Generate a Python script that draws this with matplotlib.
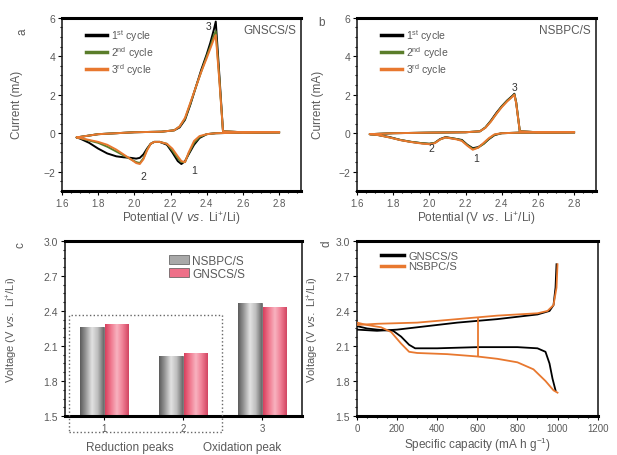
import numpy as np
import matplotlib
matplotlib.use("Agg")
import matplotlib.pyplot as plt
from matplotlib.colors import LinearSegmentedColormap
from matplotlib.patches import Rectangle
from matplotlib.ticker import FormatStrFormatter

# ---- panel a: CV of GNSCS/S ----
a_v_cath = [2.80, 2.60, 2.45, 2.40, 2.36, 2.33, 2.30, 2.28, 2.26, 2.24, 2.21, 2.18, 2.14, 2.11,
            2.09, 2.07, 2.05, 2.03, 2.01, 1.98, 1.94, 1.90, 1.85, 1.80, 1.75, 1.70, 1.68]
a_i_cath_1 = [0.05, 0.03, 0.0, -0.05, -0.25, -0.6, -1.1, -1.45, -1.6, -1.45, -1.0, -0.6, -0.45, -0.45,
              -0.55, -0.8, -1.1, -1.28, -1.32, -1.28, -1.25, -1.2, -1.05, -0.8, -0.5, -0.28, -0.22]
a_i_cath_2 = [0.05, 0.03, 0.0, -0.05, -0.2, -0.5, -1.05, -1.5, -1.5, -1.3, -0.9, -0.55, -0.45, -0.45,
              -0.55, -0.85, -1.3, -1.55, -1.5, -1.35, -1.15, -0.95, -0.7, -0.5, -0.38, -0.26, -0.22]
a_i_cath_3 = [0.05, 0.03, 0.0, -0.05, -0.15, -0.4, -1.0, -1.5, -1.45, -1.2, -0.8, -0.55, -0.45, -0.45,
              -0.55, -0.9, -1.35, -1.6, -1.55, -1.35, -1.1, -0.85, -0.6, -0.45, -0.35, -0.25, -0.22]
a_v_anod = [1.68, 1.80, 2.00, 2.15, 2.22, 2.25, 2.28, 2.31, 2.34, 2.37, 2.40, 2.42, 2.44, 2.45,
            2.47, 2.49, 2.60, 2.80]
a_i_anod_1 = [-0.22, -0.05, 0.05, 0.08, 0.15, 0.3, 0.7, 1.5, 2.4, 3.3, 4.1, 4.7, 5.4, 5.8, 3.0, 0.1, 0.05, 0.05]
a_i_anod_2 = [-0.22, -0.05, 0.05, 0.08, 0.15, 0.35, 0.75, 1.55, 2.4, 3.2, 4.0, 4.5, 5.1, 5.3, 2.8, 0.1, 0.05, 0.05]
a_i_anod_3 = [-0.22, -0.05, 0.05, 0.08, 0.15, 0.35, 0.8, 1.6, 2.4, 3.2, 3.9, 4.4, 4.9, 5.1, 2.7, 0.1, 0.05, 0.05]

# ---- panel b: CV of NSBPC/S ----
b_v_cath = [2.80, 2.50, 2.40, 2.36, 2.33, 2.30, 2.27, 2.24, 2.21, 2.18, 2.15, 2.12, 2.09, 2.06,
            2.03, 2.00, 1.96, 1.90, 1.84, 1.78, 1.72, 1.67]
b_i_cath_1 = [0.05, 0.03, 0.0, -0.1, -0.3, -0.55, -0.72, -0.78, -0.6, -0.35, -0.3, -0.25, -0.2, -0.3,
              -0.5, -0.55, -0.52, -0.45, -0.35, -0.2, -0.1, -0.05]
b_i_cath_2 = [0.05, 0.03, 0.0, -0.08, -0.28, -0.55, -0.75, -0.82, -0.62, -0.38, -0.3, -0.26, -0.22, -0.32,
              -0.5, -0.55, -0.52, -0.45, -0.35, -0.22, -0.1, -0.05]
b_i_cath_3 = [0.05, 0.03, 0.0, -0.06, -0.25, -0.5, -0.75, -0.86, -0.65, -0.4, -0.32, -0.27, -0.22, -0.32,
              -0.52, -0.57, -0.54, -0.46, -0.36, -0.22, -0.1, -0.05]
b_v_anod = [1.67, 1.80, 2.00, 2.20, 2.28, 2.31, 2.34, 2.37, 2.40, 2.43, 2.46, 2.47, 2.48, 2.50, 2.60, 2.80]
b_i_anod_1 = [-0.05, 0.0, 0.03, 0.05, 0.1, 0.3, 0.65, 1.05, 1.4, 1.7, 1.95, 2.05, 1.6, 0.1, 0.05, 0.05]
b_i_anod_2 = [-0.05, 0.0, 0.03, 0.05, 0.1, 0.3, 0.62, 1.0, 1.38, 1.68, 1.92, 2.02, 1.6, 0.1, 0.05, 0.05]
b_i_anod_3 = [-0.05, 0.0, 0.03, 0.05, 0.1, 0.28, 0.6, 1.0, 1.35, 1.65, 1.9, 2.0, 1.55, 0.1, 0.05, 0.05]

cycle_labels = ['1$^{st}$ cycle', '2$^{nd}$ cycle', '3$^{rd}$ cycle']
cycle_colors = ['black', '#5a7d2a', '#e8782f']

# ---- panel c: peak potentials ----
peak_names = ['1', '2', '3']
nsbpc_peaks = [2.263, 2.015, 2.47]
gnscs_peaks = [2.29, 2.04, 2.43]
bar_base = 1.5

# ---- panel d: charge / discharge ----
gn_dis_c = [0, 50, 100, 180, 220, 260, 290, 400, 600, 800, 900, 940, 960, 975, 990]
gn_dis_v = [2.27, 2.25, 2.24, 2.23, 2.18, 2.11, 2.08, 2.08, 2.09, 2.09, 2.08, 2.05, 1.95, 1.82, 1.72]
gn_chg_c = [0, 100, 200, 300, 500, 700, 900, 960, 980, 990, 995]
gn_chg_v = [2.24, 2.23, 2.24, 2.26, 2.30, 2.33, 2.37, 2.40, 2.45, 2.60, 2.80]
ns_dis_c = [0, 50, 120, 170, 220, 260, 300, 450, 600, 700, 800, 880, 940, 980, 1000]
ns_dis_v = [2.30, 2.28, 2.26, 2.22, 2.12, 2.05, 2.04, 2.03, 2.01, 1.99, 1.96, 1.90, 1.80, 1.72, 1.70]
ns_chg_c = [0, 100, 300, 500, 700, 900, 950, 980, 995, 1000]
ns_chg_v = [2.28, 2.29, 2.30, 2.33, 2.36, 2.38, 2.40, 2.45, 2.60, 2.80]
ns_jump_c = [605, 605]
ns_jump_v = [2.01, 2.34]

txt = '#5a5a5a'
plt.rcParams['font.family'] = ['Liberation Sans', 'DejaVu Sans']
plt.rcParams['mathtext.default'] = 'regular'
plt.rcParams['font.size'] = 7
plt.rcParams['text.color'] = txt
plt.rcParams['axes.labelcolor'] = txt
plt.rcParams['xtick.labelcolor'] = txt
plt.rcParams['ytick.labelcolor'] = txt
plt.rcParams['ytick.labelsize'] = 7.5
plt.rcParams['xtick.direction'] = 'out'
plt.rcParams['ytick.direction'] = 'out'
plt.rcParams['xtick.major.size'] = 3
plt.rcParams['ytick.major.size'] = 3
plt.rcParams['xtick.minor.size'] = 1.5
plt.rcParams['ytick.minor.size'] = 1.5
plt.rcParams['xtick.minor.visible'] = True
plt.rcParams['ytick.minor.visible'] = True

fig = plt.figure(figsize=(6.17, 4.56), dpi=100)
ax_a = fig.add_axes([0.1005, 0.579, 0.387, 0.380])
ax_b = fig.add_axes([0.5786, 0.579, 0.387, 0.380])
ax_c = fig.add_axes([0.1050, 0.0855, 0.384, 0.384])
ax_d = fig.add_axes([0.5786, 0.0855, 0.390, 0.384])

vs_label = 'Voltage (V $\\it{vs.}$ Li$^{+}$/Li)'


def style(ax):
    for s in ax.spines.values():
        s.set_linewidth(1.2)
        s.set_color('#222222')
    ax.spines['top'].set_linewidth(2.2)
    ax.spines['bottom'].set_linewidth(2.2)
    ax.spines['top'].set_color('black')
    ax.spines['bottom'].set_color('black')
    ax.tick_params(which='both', top=False, right=False, width=0.8, pad=2)


def cv_panel(ax, vc, ic, va, ia, name, peaks, label_x):
    for k in range(3):
        ax.plot(vc + va, ic[k] + ia[k], color=cycle_colors[k], lw=1.4,
                label=cycle_labels[k], zorder=2 + k)
    ax.set_xlim(1.6, 2.92)
    ax.set_ylim(-3, 6)
    ax.set_xticks([1.6, 1.8, 2.0, 2.2, 2.4, 2.6, 2.8])
    ax.xaxis.set_major_formatter(FormatStrFormatter('%.1f'))
    ax.set_yticks([-2, 0, 2, 4, 6])
    ax.set_xlabel('Potential (V $\\it{vs.}$ Li$^{+}$/Li)', fontsize=8.5, labelpad=1)
    ax.set_ylabel('Current (mA)', fontsize=8.5)
    ax.yaxis.set_label_coords(label_x, 0.5)
    ax.text(0.98, 0.93, name, transform=ax.transAxes, ha='right', va='center', fontsize=8.5)
    for lab, (px, py) in zip(['1', '2', '3'], peaks):
        ax.text(px, py, lab, ha='center', va='center', fontsize=7.5, color='#333333', zorder=6)
    leg = ax.legend(loc='upper left', bbox_to_anchor=(0.06, 1.0), frameon=False, fontsize=7.5,
                    handlelength=2.0, handletextpad=0.4, labelspacing=0.1)
    for ln in leg.get_lines():
        ln.set_linewidth(2.5)
    style(ax)


cv_panel(ax_a, a_v_cath, [a_i_cath_1, a_i_cath_2, a_i_cath_3], a_v_anod,
         [a_i_anod_1, a_i_anod_2, a_i_anod_3], 'GNSCS/S',
         [(2.33, -1.9), (2.05, -2.2), (2.41, 5.55)], -0.165)
cv_panel(ax_b, b_v_cath, [b_i_cath_1, b_i_cath_2, b_i_cath_3], b_v_anod,
         [b_i_anod_1, b_i_anod_2, b_i_anod_3], 'NSBPC/S',
         [(2.26, -1.3), (2.01, -0.75), (2.47, 2.4)], -0.14)

# ---- panel c ----
x = np.arange(1, len(peak_names) + 1)
w = 0.3
bars_ns = ax_c.bar(x - 0.155, [v - bar_base for v in nsbpc_peaks], w, bottom=bar_base,
                   color='#a8a8a8', edgecolor='#555555', lw=0.5, label='NSBPC/S', zorder=2)
bars_gn = ax_c.bar(x + 0.155, [v - bar_base for v in gnscs_peaks], w, bottom=bar_base,
                   color='#ee6f88', edgecolor='#555555', lw=0.5, label='GNSCS/S', zorder=2)
grey_cmap = LinearSegmentedColormap.from_list('g', ['#5c5c5c', '#9a9a9a', '#e2e2e2', '#bdbdbd', '#6a6a6a'])
pink_cmap = LinearSegmentedColormap.from_list('p', ['#d8405e', '#f0798f', '#f8b3c0', '#ef7d93', '#d24562'])
grad = np.linspace(0, 1, 64).reshape(1, -1)
for bars, cm in [(bars_ns, grey_cmap), (bars_gn, pink_cmap)]:
    for p in bars:
        x0, y0 = p.get_xy()
        im = ax_c.imshow(grad, extent=[x0, x0 + p.get_width(), y0, y0 + p.get_height()],
                         aspect='auto', cmap=cm, zorder=2.5, interpolation='bilinear')
        im.set_clip_path(p)
ax_c.set_xlim(0.5, 3.5)
ax_c.set_ylim(1.5, 3.0)
ax_c.set_aspect('auto')
ax_c.set_xticks(x)
ax_c.set_xticklabels(peak_names)
ax_c.xaxis.set_minor_locator(plt.NullLocator())
ax_c.set_yticks([1.5, 1.8, 2.1, 2.4, 2.7, 3.0])
ax_c.yaxis.set_major_formatter(FormatStrFormatter('%.1f'))
ax_c.set_ylabel(vs_label, fontsize=8)
ax_c.yaxis.set_label_coords(-0.19, 0.5)
ax_c.add_patch(Rectangle((0.55, 1.363), 1.94, 1.003, fill=False, ls=':', lw=1.0,
                         edgecolor='#666666', clip_on=False, zorder=5))
ax_c.text(1.32, 1.237, 'Reduction peaks', ha='center', va='center', fontsize=8.5, clip_on=False)
ax_c.text(2.74, 1.237, 'Oxidation peak', ha='center', va='center', fontsize=8.5, clip_on=False)
ax_c.legend(loc='upper center', bbox_to_anchor=(0.6, 0.98), frameon=False, fontsize=8.5,
            handlelength=1.7, handleheight=0.8, handletextpad=0.3, labelspacing=0.05)
style(ax_c)

# ---- panel d ----
ax_d.plot(gn_dis_c, gn_dis_v, color='black', lw=1.3, label='GNSCS/S', zorder=3)
ax_d.plot(gn_chg_c, gn_chg_v, color='black', lw=1.3, zorder=3)
ax_d.plot(ns_dis_c, ns_dis_v, color='#e8782f', lw=1.3, label='NSBPC/S', zorder=4)
ax_d.plot(ns_chg_c, ns_chg_v, color='#e8782f', lw=1.3, zorder=4)
ax_d.plot(ns_jump_c, ns_jump_v, color='#e8782f', lw=1.3, zorder=4)
ax_d.set_xlim(0, 1200)
ax_d.set_ylim(1.5, 3.0)
ax_d.set_xticks([0, 200, 400, 600, 800, 1000, 1200])
ax_d.set_yticks([1.5, 1.8, 2.1, 2.4, 2.7, 3.0])
ax_d.yaxis.set_major_formatter(FormatStrFormatter('%.1f'))
ax_d.set_xlabel('Specific capacity (mA h g$^{-1}$)', fontsize=8.5, labelpad=1)
ax_d.set_ylabel(vs_label, fontsize=8)
ax_d.yaxis.set_label_coords(-0.15, 0.5)
leg = ax_d.legend(loc='upper left', bbox_to_anchor=(0.06, 1.0), frameon=False, fontsize=8,
                  handlelength=2.0, handletextpad=0.4, labelspacing=0.05)
for ln in leg.get_lines():
    ln.set_linewidth(2.5)
style(ax_d)

# panel letters
fig.text(22 / 617, 1 - 32 / 456, 'a', rotation=90, ha='center', va='center', fontsize=8.5)
fig.text(322 / 617, 1 - 23 / 456, 'b', ha='center', va='center', fontsize=8.5)
fig.text(20 / 617, 1 - 245 / 456, 'c', rotation=90, ha='center', va='center', fontsize=8.5)
fig.text(327 / 617, 1 - 244 / 456, 'd', rotation=90, ha='center', va='center', fontsize=8.5)

fig.savefig('out.png', dpi=100)
